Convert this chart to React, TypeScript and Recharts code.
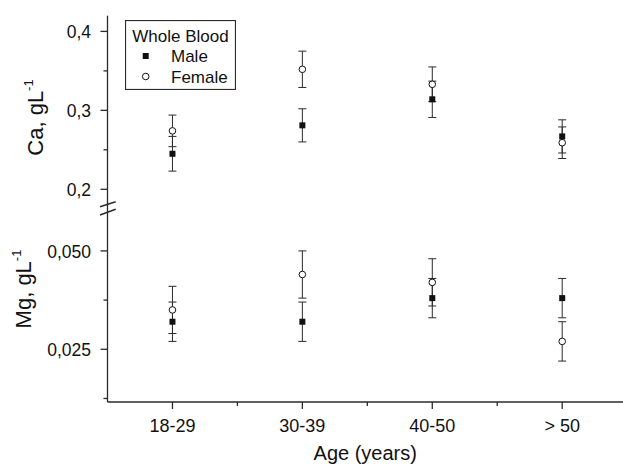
import React from 'react';
import { ScatterChart, Scatter, XAxis, YAxis, ErrorBar, Legend } from 'recharts';

// ---- data ----
const categories = ['18-29', '30-39', '40-50', '> 50'];
const seriesNames = ['Male', 'Female'];

const caMale = [0.245, 0.281, 0.314, 0.267];
const caMaleErr = [0.022, 0.021, 0.023, 0.021];
const caFemale = [0.274, 0.352, 0.333, 0.259];
const caFemaleErr = [0.02, 0.023, 0.022, 0.02];

const mgMale = [0.032, 0.032, 0.038, 0.038];
const mgMaleErr = [0.005, 0.005, 0.005, 0.005];
const mgFemale = [0.035, 0.044, 0.042, 0.027];
const mgFemaleErr = [0.006, 0.006, 0.006, 0.005];

const caTicks = [0.2, 0.25, 0.3, 0.35, 0.4];
const caTickLabels: Record<string, string> = { '0.2': '0,2', '0.3': '0,3', '0.4': '0,4' };
const mgTicks = [0.0125, 0.025, 0.0375, 0.05];
const mgTickLabels: Record<string, string> = { '0.025': '0,025', '0.05': '0,050' };
const xTicks = [1, 1.5, 2, 2.5, 3, 3.5, 4];

// ---- style ----
const W = 623;
const H = 465;
const YW = 107.5;
const TOP = 15.7;
const BREAK = 208;
const XAXIS_Y = 402;
const FONT = "'Liberation Sans', Arial, Helvetica, sans-serif";
const INK = '#2a2a2a';
const X_DOMAIN: [number, number] = [0.5, 4.468];

const build = (vals: number[], errs: number[]) =>
  categories.map((c, i) => ({ cat: c, x: i + 1, y: vals[i], err: errs[i] }));

const caMaleData = build(caMale, caMaleErr);
const caFemaleData = build(caFemale, caFemaleErr);
const mgMaleData = build(mgMale, mgMaleErr);
const mgFemaleData = build(mgFemale, mgFemaleErr);

const SquareShape = (p: any) => (
  <rect x={p.cx - 3} y={p.cy - 3} width={6} height={6} fill="#111" />
);
const CircleShape = (p: any) => (
  <circle cx={p.cx} cy={p.cy} r={3.3} fill="#fff" stroke="#111" strokeWidth={1} />
);

const makeYTick = (labels: Record<string, string>) => (p: any) => {
  const v = String(p.payload.value);
  const lab = labels[v];
  const major = lab !== undefined;
  return (
    <g>
      <line x1={p.x - (major ? 7 : 4)} x2={p.x} y1={p.y} y2={p.y} stroke={INK} strokeWidth={1.3} />
      {major && (
        <text x={p.x - 16.5} y={p.y} dy="0.4em" textAnchor="end" fontSize={17.5} fontFamily={FONT} fill="#111">
          {lab}
        </text>
      )}
    </g>
  );
};

const XTick = (p: any) => {
  const v = p.payload.value;
  const major = Number.isInteger(v);
  return (
    <g>
      <line x1={p.x} x2={p.x} y1={p.y} y2={p.y + (major ? 7 : 4)} stroke={INK} strokeWidth={1.3} />
      {major && (
        <text x={p.x} y={p.y + 29.5} textAnchor="middle" fontSize={18} fontFamily={FONT} fill="#111">
          {categories[v - 1]}
        </text>
      )}
    </g>
  );
};

const YLabel = (text: string, cx: number, cy: number) => () => (
  <text
    transform={`translate(${cx},${cy}) rotate(-90)`}
    textAnchor="middle"
    fontSize={22}
    fontFamily={FONT}
    fill="#111"
  >
    {text}
    <tspan fontSize={13} dy={-10}>-1</tspan>
  </text>
);

const XLabel = (p: any) => {
  const vb = p.viewBox;
  return (
    <text x={vb.x + vb.width / 2} y={460} textAnchor="middle" fontSize={20} fontFamily={FONT} fill="#111">
      Age (years)
    </text>
  );
};

const LegendBox = (props: any) => {
  const items = [...(props.payload || [])].sort(
    (a: any, b: any) => seriesNames.indexOf(a.value) - seriesNames.indexOf(b.value)
  );
  return (
    <svg width={111} height={70} style={{ display: 'block' }}>
      <rect x={0.5} y={0.5} width={110} height={69} fill="#fff" stroke={INK} strokeWidth={1.2} />
      <text x={55.5} y={21.5} textAnchor="middle" fontSize={17} fontFamily={FONT} fill="#111">
        Whole Blood
      </text>
      {items.map((it: any, i: number) => {
        const cy = 36 + i * 20.5;
        return (
          <g key={it.value}>
            {it.value === 'Male' ? (
              <rect x={17.7} y={cy - 3} width={6} height={6} fill="#111" />
            ) : (
              <circle cx={20.7} cy={cy} r={3.3} fill="#fff" stroke="#111" strokeWidth={1} />
            )}
            <text x={46} y={cy + 6} fontSize={17} fontFamily={FONT} fill="#111">
              {it.value}
            </text>
          </g>
        );
      })}
    </svg>
  );
};

const layer: React.CSSProperties = { position: 'absolute', left: 0, top: 0 };

export default function App() {
  return (
    <div style={{ position: 'absolute', left: 0, top: 0, width: W, height: H, background: '#fff', overflow: 'hidden' }}>
      {/* Ca panel */}
      <div style={layer}>
        <ScatterChart width={W} height={H} margin={{ top: TOP, right: 0, bottom: H - BREAK, left: 0 }}>
          <XAxis dataKey="x" type="number" domain={X_DOMAIN} allowDataOverflow hide />
          <XAxis
            xAxisId="top"
            orientation="top"
            type="number"
            domain={X_DOMAIN}
            allowDataOverflow
            height={0}
            tick={false}
            tickLine={false}
            axisLine={{ stroke: INK, strokeWidth: 1.3 }}
          />
          <YAxis
            dataKey="y"
            type="number"
            domain={[0.1763, 0.4199]}
            allowDataOverflow
            ticks={caTicks}
            interval={0}
            width={YW}
            tickSize={0}
            tickMargin={0}
            tickLine={false}
            tick={makeYTick(caTickLabels)}
            axisLine={{ stroke: INK, strokeWidth: 1.3 }}
            label={YLabel('Ca, gL', 42.5, 117.5)}
          />
          <Legend
            layout="vertical"
            align="center"
            verticalAlign="middle"
            content={LegendBox}
            wrapperStyle={{ position: 'absolute', left: 125, top: 20, width: 111, height: 70 }}
          />
          <Scatter name="Female" data={caFemaleData} shape={CircleShape} fill="#fff" stroke="#111" isAnimationActive={false}>
            <ErrorBar dataKey="err" direction="y" width={4} stroke={INK} strokeWidth={1} />
          </Scatter>
          <Scatter name="Male" data={caMaleData} shape={SquareShape} fill="#111" isAnimationActive={false}>
            <ErrorBar dataKey="err" direction="y" width={4} stroke={INK} strokeWidth={1} />
          </Scatter>
        </ScatterChart>
      </div>
      {/* Mg panel */}
      <div style={layer}>
        <ScatterChart width={W} height={H} margin={{ top: BREAK, right: 0, bottom: 0, left: 0 }}>
          <XAxis
            dataKey="x"
            type="number"
            domain={X_DOMAIN}
            allowDataOverflow
            ticks={xTicks}
            interval={0}
            height={H - XAXIS_Y}
            tickSize={0}
            tickMargin={0}
            tickLine={false}
            tick={XTick}
            axisLine={{ stroke: INK, strokeWidth: 1.3 }}
            label={XLabel}
          />
          <YAxis
            dataKey="y"
            type="number"
            domain={[0.0116, 0.0609]}
            allowDataOverflow
            ticks={mgTicks}
            interval={0}
            width={YW}
            tickSize={0}
            tickMargin={0}
            tickLine={false}
            tick={makeYTick(mgTickLabels)}
            axisLine={{ stroke: INK, strokeWidth: 1.3 }}
            label={YLabel('Mg, gL', 31, 289)}
          />
          <Scatter name="Female" data={mgFemaleData} shape={CircleShape} fill="#fff" stroke="#111" isAnimationActive={false}>
            <ErrorBar dataKey="err" direction="y" width={4} stroke={INK} strokeWidth={1} />
          </Scatter>
          <Scatter name="Male" data={mgMaleData} shape={SquareShape} fill="#111" isAnimationActive={false}>
            <ErrorBar dataKey="err" direction="y" width={4} stroke={INK} strokeWidth={1} />
          </Scatter>
        </ScatterChart>
      </div>
      {/* axis break marks */}
      <svg width={W} height={H} style={{ ...layer, pointerEvents: 'none' }}>
        <line x1={100} y1={206.7} x2={115.7} y2={201.7} stroke={INK} strokeWidth={1.5} />
        <line x1={100} y1={215} x2={115.7} y2={209.3} stroke={INK} strokeWidth={1.5} />
      </svg>
    </div>
  );
}
